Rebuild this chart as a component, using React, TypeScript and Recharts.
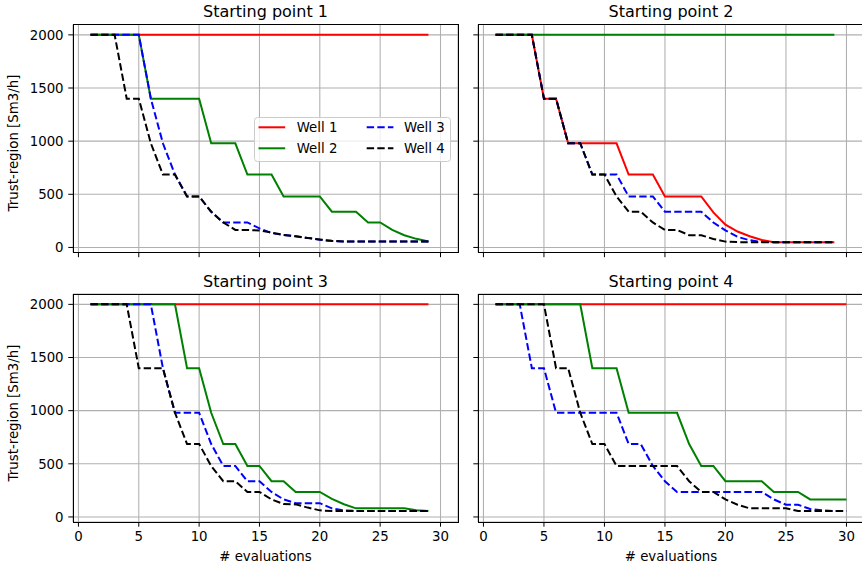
import { LineChart, Line, XAxis, YAxis, CartesianGrid, Legend } from "recharts";

const FONT = "'DejaVu Sans', sans-serif";

// x values (# evaluations)
const evals29 = [1, 2, 3, 4, 5, 6, 7, 8, 9, 10, 11, 12, 13, 14, 15, 16, 17, 18, 19, 20, 21, 22, 23, 24, 25, 26, 27, 28, 29];
const evals30 = [...evals29, 30];

const xTicks = [0, 5, 10, 15, 20, 25, 30];
const yTicks = [0, 500, 1000, 1500, 2000];

const titles = ["Starting point 1", "Starting point 2", "Starting point 3", "Starting point 4"];

// Starting point 1
const sp1Well1 = [2000, 2000, 2000, 2000, 2000, 2000, 2000, 2000, 2000, 2000, 2000, 2000, 2000, 2000, 2000, 2000, 2000, 2000, 2000, 2000, 2000, 2000, 2000, 2000, 2000, 2000, 2000, 2000, 2000];
const sp1Well2 = [2000, 2000, 2000, 2000, 2000, 1400, 1400, 1400, 1400, 1400, 980, 980, 980, 686, 686, 686, 480, 480, 480, 480, 336, 336, 336, 235, 235, 165, 115, 81, 56];
const sp1Well3 = [2000, 2000, 2000, 2000, 2000, 1400, 980, 686, 480, 480, 336, 235, 235, 235, 180, 135, 118, 105, 90, 72, 60, 56, 56, 56, 56, 56, 56, 56, 56];
const sp1Well4 = [2000, 2000, 2000, 1400, 1400, 980, 686, 686, 480, 480, 336, 235, 165, 165, 160, 140, 118, 105, 88, 75, 62, 56, 56, 56, 56, 56, 56, 56, 56];

// Starting point 2
const sp2Well1 = [2000, 2000, 2000, 2000, 1400, 1400, 980, 980, 980, 980, 980, 686, 686, 686, 480, 480, 480, 480, 330, 215, 150, 105, 70, 50, 50, 50, 50, 50, 50];
const sp2Well2 = [2000, 2000, 2000, 2000, 2000, 2000, 2000, 2000, 2000, 2000, 2000, 2000, 2000, 2000, 2000, 2000, 2000, 2000, 2000, 2000, 2000, 2000, 2000, 2000, 2000, 2000, 2000, 2000, 2000];
const sp2Well3 = [2000, 2000, 2000, 2000, 1400, 1400, 980, 980, 686, 686, 686, 480, 480, 480, 336, 336, 336, 336, 235, 160, 100, 68, 52, 50, 50, 50, 50, 50, 50];
const sp2Well4 = [2000, 2000, 2000, 2000, 1400, 1400, 980, 980, 686, 686, 480, 336, 336, 235, 165, 165, 115, 115, 80, 55, 50, 50, 50, 50, 50, 50, 50, 50, 50];

// Starting point 3
const sp3Well1 = [2000, 2000, 2000, 2000, 2000, 2000, 2000, 2000, 2000, 2000, 2000, 2000, 2000, 2000, 2000, 2000, 2000, 2000, 2000, 2000, 2000, 2000, 2000, 2000, 2000, 2000, 2000, 2000, 2000];
const sp3Well2 = [2000, 2000, 2000, 2000, 2000, 2000, 2000, 2000, 1400, 1400, 980, 686, 686, 480, 480, 336, 336, 235, 235, 235, 170, 120, 81, 81, 81, 81, 81, 62, 56];
const sp3Well3 = [2000, 2000, 2000, 2000, 2000, 2000, 1400, 980, 980, 980, 686, 480, 480, 336, 336, 235, 165, 130, 130, 130, 81, 62, 56, 56, 56, 56, 56, 56, 56];
const sp3Well4 = [2000, 2000, 2000, 2000, 1400, 1400, 1400, 980, 686, 686, 480, 336, 336, 235, 235, 165, 122, 118, 88, 62, 56, 56, 56, 56, 56, 56, 56, 56, 56];

// Starting point 4
const sp4Well1 = [2000, 2000, 2000, 2000, 2000, 2000, 2000, 2000, 2000, 2000, 2000, 2000, 2000, 2000, 2000, 2000, 2000, 2000, 2000, 2000, 2000, 2000, 2000, 2000, 2000, 2000, 2000, 2000, 2000, 2000];
const sp4Well2 = [2000, 2000, 2000, 2000, 2000, 2000, 2000, 2000, 1400, 1400, 1400, 980, 980, 980, 980, 980, 686, 480, 480, 336, 336, 336, 336, 235, 235, 235, 165, 165, 165, 165];
const sp4Well3 = [2000, 2000, 2000, 1400, 1400, 980, 980, 980, 980, 980, 980, 686, 686, 480, 336, 235, 235, 235, 235, 235, 235, 235, 235, 165, 115, 115, 75, 62, 56, 56];
const sp4Well4 = [2000, 2000, 2000, 2000, 2000, 1400, 1400, 980, 686, 686, 480, 480, 480, 480, 480, 480, 336, 235, 235, 165, 115, 81, 81, 81, 81, 56, 56, 56, 56, 56];

const SERIES = [
  { key: "w1", name: "Well 1", color: "#ff0000", dash: undefined },
  { key: "w2", name: "Well 2", color: "#008000", dash: undefined },
  { key: "w3", name: "Well 3", color: "#0000ff", dash: "7.4 3.2" },
  { key: "w4", name: "Well 4", color: "#000000", dash: "7.4 3.2" },
];

const toRows = (xs: number[], w1: number[], w2: number[], w3: number[], w4: number[]) =>
  xs.map((x, i) => ({ x, w1: w1[i], w2: w2[i], w3: w3[i], w4: w4[i] }));

const panels = [
  toRows(evals29, sp1Well1, sp1Well2, sp1Well3, sp1Well4),
  toRows(evals29, sp2Well1, sp2Well2, sp2Well3, sp2Well4),
  toRows(evals29, sp3Well1, sp3Well2, sp3Well3, sp3Well4),
  toRows(evals30, sp4Well1, sp4Well2, sp4Well3, sp4Well4),
];

// plot-area edges in page pixels
const PLOT_X = [
  { left: 73, right: 458 },
  { left: 478, right: 864 },
];
const PLOT_Y = [
  { top: 24.5, bottom: 252.5 },
  { top: 294, bottom: 522 },
];
const BOX_X = [
  { left: 0, width: 470 },
  { left: 466, width: 400 },
];
const BOX_Y = [
  { top: 0, height: 270 },
  { top: 270, height: 297 },
];

const tickStyle = { fill: "#000", fontSize: 13.33, fontFamily: FONT };
const blank = () => "";

function LegendBox() {
  const cols = [
    { lineX: 4.5, textX: 42.7 },
    { lineX: 112.7, textX: 150 },
  ];
  const rowsY = [10.3, 31.3];
  return (
    <svg width={197} height={45} style={{ display: "block" }}>
      <rect x={0.5} y={0.5} width={196} height={44} rx={3} fill="rgba(255,255,255,0.8)" stroke="#cccccc" />
      {SERIES.map((s, i) => {
        const c = cols[Math.floor(i / 2)];
        const y = rowsY[i % 2];
        return (
          <g key={s.key}>
            <line x1={c.lineX} x2={c.lineX + 26.7} y1={y} y2={y} stroke={s.color} strokeWidth={2} strokeDasharray={s.dash} />
            <text x={c.textX} y={y} dy="0.36em" fontSize={13.33} fontFamily={FONT} fill="#000">
              {s.name}
            </text>
          </g>
        );
      })}
    </svg>
  );
}

function Panel({ index }: { index: number }) {
  const col = index % 2;
  const row = Math.floor(index / 2);
  const bx = BOX_X[col];
  const by = BOX_Y[row];
  const px = PLOT_X[col];
  const py = PLOT_Y[row];
  const yAxisW = px.left - bx.left;
  const xAxisH = by.top + by.height - py.bottom;
  const centerX = (px.left + px.right) / 2 - bx.left;

  return (
    <div style={{ position: "absolute", left: bx.left, top: by.top, width: bx.width, height: by.height }}>
      <LineChart
        width={bx.width}
        height={by.height}
        data={panels[index]}
        margin={{ top: py.top - by.top, right: bx.left + bx.width - px.right, bottom: 0, left: 0 }}
      >
        <CartesianGrid stroke="#b0b0b0" strokeWidth={1.07} />
        <XAxis
          type="number"
          dataKey="x"
          domain={[-0.45, 31.45]}
          allowDataOverflow
          ticks={xTicks}
          interval={0}
          height={xAxisH}
          axisLine={false}
          stroke="#000"
          tickSize={4.7}
          tickMargin={4.7}
          tick={tickStyle}
          tickFormatter={row === 1 ? undefined : blank}
        />
        <YAxis
          type="number"
          domain={[-47.5, 2097.5]}
          allowDataOverflow
          ticks={yTicks}
          interval={0}
          width={yAxisW}
          axisLine={false}
          stroke="#000"
          tickSize={4.7}
          tickMargin={4.7}
          tick={tickStyle}
          tickFormatter={col === 0 ? undefined : blank}
        />
        {SERIES.map((s) => (
          <Line
            key={s.key}
            dataKey={s.key}
            name={s.name}
            type="linear"
            stroke={s.color}
            strokeWidth={2}
            strokeDasharray={s.dash}
            dot={false}
            activeDot={false}
            isAnimationActive={false}
          />
        ))}
        {index === 0 && (
          <Legend
            layout="horizontal"
            verticalAlign="middle"
            align="center"
            wrapperStyle={{ left: 254 - bx.left, top: 116.7 - by.top, width: 197, height: 45 }}
            content={() => <LegendBox />}
          />
        )}
      </LineChart>
      {/* axes frame */}
      <div
        style={{
          position: "absolute",
          left: px.left - bx.left - 0.5,
          top: py.top - by.top - 0.5,
          width: px.right - px.left + 1,
          height: py.bottom - py.top + 1,
          border: "1px solid #000",
          boxSizing: "border-box",
          pointerEvents: "none",
        }}
      />
      <div
        style={{
          position: "absolute",
          left: centerX - 100,
          width: 200,
          top: py.top - by.top - 20.5,
          lineHeight: "16px",
          fontSize: 16,
          textAlign: "center",
          color: "#000",
        }}
      >
        {titles[index]}
      </div>
      {row === 1 && (
        <div
          style={{
            position: "absolute",
            left: centerX - 100,
            width: 200,
            top: 550.4 - by.top,
            lineHeight: "13.33px",
            fontSize: 13.33,
            textAlign: "center",
            color: "#000",
          }}
        >
          # evaluations
        </div>
      )}
      {col === 0 && (
        <div
          style={{
            position: "absolute",
            left: 14.4 - 110,
            width: 220,
            top: (py.top + py.bottom) / 2 + 4.5 - by.top - 8,
            height: 16,
            lineHeight: "16px",
            fontSize: 13.33,
            textAlign: "center",
            color: "#000",
            transform: "rotate(-90deg)",
            whiteSpace: "nowrap",
          }}
        >
          Trust-region [Sm3/h]
        </div>
      )}
    </div>
  );
}

export default function App() {
  return (
    <div
      style={{
        position: "absolute",
        left: 0,
        top: 0,
        width: 862,
        height: 567,
        overflow: "hidden",
        background: "#fff",
        fontFamily: FONT,
      }}
    >
      {[0, 1, 2, 3].map((i) => (
        <Panel key={i} index={i} />
      ))}
    </div>
  );
}
